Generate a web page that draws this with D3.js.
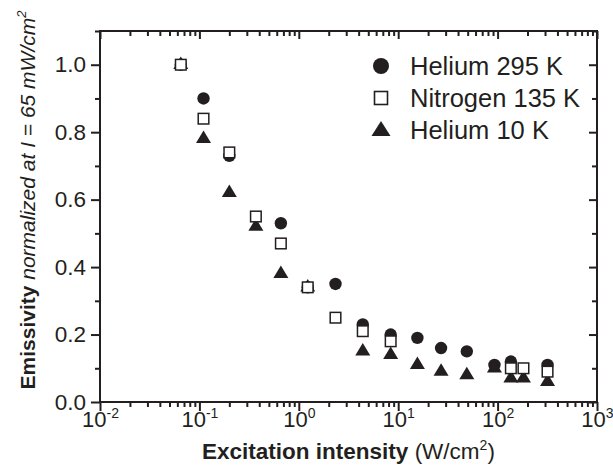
<!DOCTYPE html>
<html>
<head>
<meta charset="utf-8">
<script src="https://cdn.jsdelivr.net/npm/d3@7/dist/d3.min.js"></script>
<style>
  html, body { margin: 0; padding: 0; background: #fff; }
  svg { display: block; font-family: "Liberation Sans", Arial, sans-serif; }
</style>
</head>
<body>
<svg id="chart" width="613" height="472"></svg>
<script>
// Emissivity vs excitation intensity, three measurement conditions
const heliumRoomX = [0.065, 0.11, 0.2, 0.66, 1.23, 2.34, 4.4, 8.4, 15.6, 27, 49, 93, 136, 318];
const heliumRoomY = [1.0, 0.90, 0.73, 0.53, 0.34, 0.35, 0.23, 0.20, 0.19, 0.16, 0.15, 0.11, 0.12, 0.11];

const nitrogenX = [0.065, 0.11, 0.2, 0.37, 0.66, 1.23, 2.34, 4.4, 8.4, 136, 182, 318];
const nitrogenY = [1.0, 0.84, 0.74, 0.55, 0.47, 0.34, 0.25, 0.21, 0.18, 0.10, 0.10, 0.09];

const heliumColdX = [0.065, 0.11, 0.2, 0.37, 0.66, 1.23, 4.4, 8.4, 15.6, 27, 49, 93, 136, 182, 318];
const heliumColdY = [1.0, 0.78, 0.62, 0.52, 0.38, 0.34, 0.15, 0.14, 0.11, 0.09, 0.08, 0.10, 0.07, 0.07, 0.06];

const seriesNames = ["Helium 295 K", "Nitrogen 135 K", "Helium 10 K"];
const xMajorExponents = [-2, -1, 0, 1, 2, 3];
const yMajorTicks = [0.0, 0.2, 0.4, 0.6, 0.8, 1.0];
const yMinorTicks = [0.1, 0.3, 0.5, 0.7, 0.9, 1.1];

const ink = "#231f20";
const svg = d3.select("#chart");

const plotLeft = 100, plotRight = 597, plotTop = 31, plotBottom = 402;
const x = d3.scaleLog().domain([1e-2, 1e3]).range([plotLeft, plotRight]);
const y = d3.scaleLinear().domain([0, 1.1]).range([plotBottom, plotTop]);

const xMajor = xMajorExponents.map(e => Math.pow(10, e));
const xMinor = [];
for (let e = -2; e < 3; e++) for (let m = 2; m <= 9; m++) xMinor.push(m * Math.pow(10, e));

function styleAxis(g) {
  g.select(".domain").remove();
  g.selectAll("line").attr("stroke", ink).attr("stroke-width", 2);
  g.selectAll("text").attr("fill", ink);
}

// Bottom axis: major ticks with power-of-ten labels, minor ticks in between
const gxMinor = svg.append("g").attr("transform", `translate(0,${plotBottom})`)
  .call(d3.axisBottom(x).tickValues(xMinor).tickSize(5).tickFormat(""));
styleAxis(gxMinor);
const gx = svg.append("g").attr("transform", `translate(0,${plotBottom})`)
  .call(d3.axisBottom(x).tickValues(xMajor).tickSize(9).tickFormat(""));
styleAxis(gx);
gx.selectAll(".tick").each(function(d, i) {
  const t = d3.select(this).select("text")
    .attr("font-size", 22).attr("dy", null).attr("y", 25).attr("text-anchor", "middle");
  t.text(null);
  t.append("tspan").text("10");
  t.append("tspan").attr("font-size", 14).attr("dy", -9).text(xMajorExponents[i]);
});

// Top axis mirror ticks, pointing inward
const gxTop = svg.append("g").attr("transform", `translate(0,${plotTop})`)
  .call(d3.axisBottom(x).tickValues(xMinor).tickSize(5).tickFormat(""));
styleAxis(gxTop);
const gxTopMajor = svg.append("g").attr("transform", `translate(0,${plotTop})`)
  .call(d3.axisBottom(x).tickValues(xMajor).tickSize(8).tickFormat(""));
styleAxis(gxTopMajor);

// Left axis
const gyMinor = svg.append("g").attr("transform", `translate(${plotLeft},0)`)
  .call(d3.axisLeft(y).tickValues(yMinorTicks).tickSize(5).tickFormat(""));
styleAxis(gyMinor);
const gy = svg.append("g").attr("transform", `translate(${plotLeft},0)`)
  .call(d3.axisLeft(y).tickValues(yMajorTicks).tickSize(9).tickPadding(5).tickFormat(d3.format(".1f")));
styleAxis(gy);
gy.selectAll("text").attr("font-size", 22.5);

// Right axis mirror ticks, pointing inward
const gyRight = svg.append("g").attr("transform", `translate(${plotRight},0)`)
  .call(d3.axisRight(y).tickValues(yMinorTicks).tickSize(-5).tickFormat(""));
styleAxis(gyRight);
const gyRightMajor = svg.append("g").attr("transform", `translate(${plotRight},0)`)
  .call(d3.axisRight(y).tickValues(yMajorTicks).tickSize(-8).tickFormat(""));
styleAxis(gyRightMajor);

// Plot frame
svg.append("rect")
  .attr("x", plotLeft).attr("y", plotTop)
  .attr("width", plotRight - plotLeft).attr("height", plotBottom - plotTop)
  .attr("fill", "none").attr("stroke", ink).attr("stroke-width", 2);

// Marker shapes
function trianglePath(w, h) {
  return `M0,${-2 * h / 3}L${w / 2},${h / 3}L${-w / 2},${h / 3}Z`;
}

const pts = (xs, ys) => xs.map((v, i) => ({ x: v, y: ys[i] }));

const plot = svg.append("g");

plot.append("g").selectAll("circle")
  .data(pts(heliumRoomX, heliumRoomY)).join("circle")
  .attr("cx", d => x(d.x)).attr("cy", d => y(d.y)).attr("r", 6.2)
  .attr("fill", ink);

plot.append("g").selectAll("path")
  .data(pts(heliumColdX, heliumColdY)).join("path")
  .attr("transform", d => `translate(${x(d.x)},${y(d.y)})`)
  .attr("d", trianglePath(15, 12.5))
  .attr("fill", ink);

plot.append("g").selectAll("rect")
  .data(pts(nitrogenX, nitrogenY)).join("rect")
  .attr("x", d => x(d.x) - 5.3).attr("y", d => y(d.y) - 5.3)
  .attr("width", 10.6).attr("height", 10.6)
  .attr("fill", "#fff").attr("stroke", ink).attr("stroke-width", 1.5);

// Legend
const legend = svg.append("g");
const legendY = [66, 98, 130];
const lx = 381;
legend.append("circle").attr("cx", lx).attr("cy", legendY[0]).attr("r", 8).attr("fill", ink);
legend.append("rect").attr("x", lx - 6.5).attr("y", legendY[1] - 6.5)
  .attr("width", 13).attr("height", 13)
  .attr("fill", "#fff").attr("stroke", ink).attr("stroke-width", 1.6);
legend.append("path").attr("transform", `translate(${lx},${legendY[2] + 1})`)
  .attr("d", trianglePath(19, 15)).attr("fill", ink);
legend.selectAll("text").data(seriesNames).join("text")
  .attr("x", 410).attr("y", (d, i) => legendY[i] + 9)
  .attr("font-size", 25.5).attr("fill", ink)
  .text(d => d);

// Axis titles
const xt = svg.append("text")
  .attr("x", (plotLeft + plotRight) / 2).attr("y", 459)
  .attr("text-anchor", "middle").attr("font-size", 22.5).attr("fill", ink);
xt.append("tspan").attr("font-weight", "bold").text("Excitation intensity");
xt.append("tspan").text(" (W/cm");
xt.append("tspan").attr("font-size", 14).attr("dy", -9).text("2");
xt.append("tspan").attr("dy", 9).text(")");

const yt = svg.append("text")
  .attr("transform", `translate(35,200) rotate(-90)`)
  .attr("text-anchor", "middle").attr("font-size", 21).attr("fill", ink);
yt.append("tspan").attr("font-weight", "bold").text("Emissivity");
yt.append("tspan").attr("font-style", "italic").text(" normalized at I = 65 mW/cm");
yt.append("tspan").attr("font-style", "italic").attr("font-size", 13).attr("dy", -9).text("2");
</script>
</body>
</html>
